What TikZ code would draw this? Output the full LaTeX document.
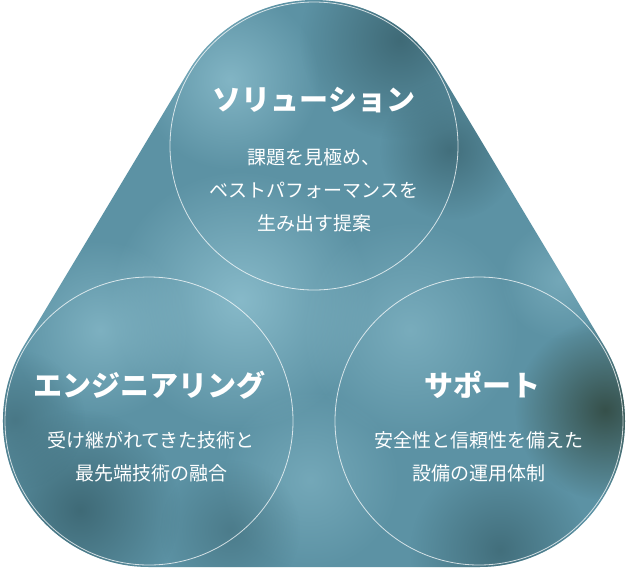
\documentclass[tikz,border=0pt]{standalone}
\usepackage{fontspec}
\newfontfamily\jpfont{Noto Sans CJK JP}
\usetikzlibrary{calc,fadings}
\definecolor{basecol}{RGB}{92,146,164}
\definecolor{lightcol}{RGB}{140,190,205}
\definecolor{darkcol}{RGB}{60,102,114}
\definecolor{deepcol}{RGB}{54,80,74}
\tikzfading[name=softblob, inner color=transparent!0, outer color=transparent!100]

\begin{document}
\begin{tikzpicture}[
    x=1pt, y=1pt,
    ring/.style={circle, draw=white, draw opacity=0.75, line width=0.8pt, minimum size=288pt, inner sep=0pt},
    title/.style={text=white, font=\jpfont\bfseries\fontsize{29}{29}\selectfont},
    desc/.style={text=white, font=\jpfont\fontsize{19}{33}\selectfont, align=center},
    blob/.style={fill=#1, path fading=softblob}
]
\useasboundingbox (0,0) rectangle (628,-568);

% centres of the three circles
\coordinate (c1) at (314,-146);
\coordinate (c2) at (149,-421);
\coordinate (c3) at (479,-421);

% rounded triangle behind the circles
\begin{scope}
    \clip ($(c1)+(30.96:146)$) arc[start angle=30.96, end angle=149.04, radius=146]
        -- ($(c2)+(149.04:146)$) arc[start angle=149.04, end angle=270, radius=146]
        -- ($(c3)+(270:146)$) arc[start angle=270, end angle=390.96, radius=146]
        -- cycle;
    \fill[basecol] (0,0) rectangle (628,-568);
    \path[blob=lightcol, fill opacity=0.9] (240,-300) circle[radius=130];
    \path[blob=lightcol, fill opacity=0.8] (230,-80) circle[radius=90];
    \path[blob=lightcol, fill opacity=0.7] (100,-330) circle[radius=90];
    \path[blob=lightcol, fill opacity=0.6] (410,-330) circle[radius=110];
    \path[blob=lightcol, fill opacity=0.5] (310,-480) circle[radius=90];
    \path[blob=lightcol, fill opacity=0.5] (560,-280) circle[radius=60];
    \path[blob=darkcol, fill opacity=0.9] (400,-40) circle[radius=100];
    \path[blob=darkcol, fill opacity=0.8] (450,-150) circle[radius=70];
    \path[blob=deepcol, fill opacity=1] (605,-410) circle[radius=90];
    \path[blob=darkcol, fill opacity=0.9] (80,-510) circle[radius=100];
    \path[blob=darkcol, fill opacity=0.8] (500,-550) circle[radius=90];
    \path[blob=darkcol, fill opacity=0.6] (15,-420) circle[radius=70];
    \path[blob=darkcol, fill opacity=0.5] (230,-530) circle[radius=70];
\end{scope}

% circles
\node[ring] (solring) at (c1) {};
\node[ring] (engring) at (c2) {};
\node[ring] (supring) at (c3) {};

% texts
\node[title] (soltitle) at (314,-100) {ソリューション};
\node[desc] (soldesc) at (314,-190) {課題を見極め、\\ベストパフォーマンスを\\生み出す提案};
\node[title] (engtitle) at (149,-385) {エンジニアリング};
\node[desc] (engdesc) at (151,-457) {受け継がれてきた技術と\\最先端技術の融合};
\node[title] (suptitle) at (482,-385) {サポート};
\node[desc] (supdesc) at (479,-457) {安全性と信頼性を備えた\\設備の運用体制};
\end{tikzpicture}
\end{document}
